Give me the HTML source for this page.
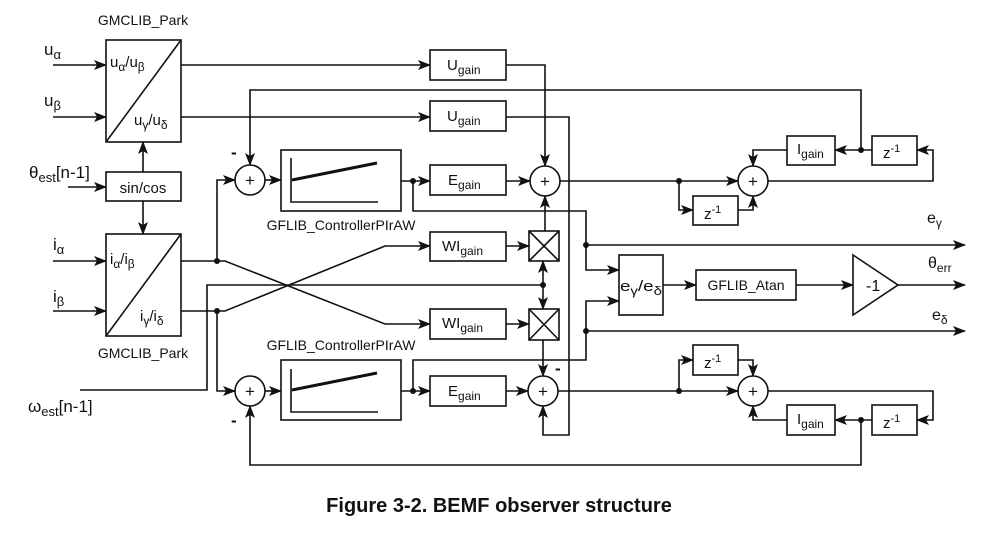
<!DOCTYPE html>
<html><head><meta charset="utf-8"><style>
html,body{margin:0;padding:0;background:#fff;}
svg{display:block;}
text{font-family:"Liberation Sans",sans-serif;fill:#111;}
</style></head><body>
<svg width="999" height="538" viewBox="0 0 999 538" xmlns="http://www.w3.org/2000/svg">
<defs>
<marker id="a" viewBox="0 0 13 10" refX="12" refY="5" markerWidth="13" markerHeight="11" markerUnits="userSpaceOnUse" orient="auto">
<path d="M0,0 L13,5 L0,10 L3,5 Z" fill="#111"/></marker>
</defs>
<g stroke="#111" stroke-width="1.6" fill="none">
<rect x="106" y="40" width="75" height="102"/><line x1="106" y1="142" x2="181" y2="40"/>
<rect x="106" y="234" width="75" height="102"/><line x1="106" y1="336" x2="181" y2="234"/>
<rect x="106" y="172" width="75" height="29"/>
<line x1="53" y1="65" x2="106" y2="65" marker-end="url(#a)"/>
<line x1="53" y1="117" x2="106" y2="117" marker-end="url(#a)"/>
<line x1="68" y1="187" x2="106" y2="187" marker-end="url(#a)"/>
<line x1="143" y1="172" x2="143" y2="142" marker-end="url(#a)"/>
<line x1="143" y1="201" x2="143" y2="234" marker-end="url(#a)"/>
<line x1="53" y1="261" x2="106" y2="261" marker-end="url(#a)"/>
<line x1="53" y1="311" x2="106" y2="311" marker-end="url(#a)"/>
<rect x="430" y="50" width="76" height="30"/>
<rect x="430" y="101" width="76" height="30"/>
<rect x="430" y="165" width="76" height="30"/>
<rect x="430" y="232" width="76" height="29"/>
<rect x="430" y="309" width="76" height="30"/>
<rect x="430" y="376" width="76" height="30"/>
<line x1="181" y1="65" x2="430" y2="65" marker-end="url(#a)"/>
<line x1="181" y1="117" x2="430" y2="117" marker-end="url(#a)"/>
<circle cx="250" cy="180" r="15"/><circle cx="250" cy="391" r="15"/>
<circle cx="545" cy="181" r="15"/><circle cx="543" cy="391" r="15"/>
<circle cx="753" cy="181" r="15"/><circle cx="753" cy="391" r="15"/>
<rect x="281" y="150" width="120" height="61"/>
<rect x="281" y="360" width="120" height="60"/>
<polyline points="291,158 291,202 378,202"/><polyline points="291,369 291,412 378,412"/>
<line x1="292" y1="180" x2="377" y2="163" stroke-width="3"/>
<line x1="292" y1="390" x2="377" y2="373" stroke-width="3"/>
<polyline points="861,150 861,90 250,90 250,165" marker-end="url(#a)"/>
<polyline points="217,261 217,180 235,180" marker-end="url(#a)"/>
<line x1="265" y1="180" x2="281" y2="180" marker-end="url(#a)"/>
<line x1="401" y1="181" x2="430" y2="181" marker-end="url(#a)"/>
<polyline points="413,181 413,211 586,211 586,270 619,270" marker-end="url(#a)"/>
<line x1="506" y1="181" x2="530" y2="181" marker-end="url(#a)"/>
<polyline points="506,65 545,65 545,166" marker-end="url(#a)"/>
<polyline points="506,117 569,117 569,435 543,435 543,406" marker-end="url(#a)"/>
<line x1="560" y1="181" x2="738" y2="181" marker-end="url(#a)"/>
<polyline points="679,181 679,210 693,210" marker-end="url(#a)"/>
<rect x="693" y="196" width="45" height="29"/>
<polyline points="738,210 753,210 753,196" marker-end="url(#a)"/>
<polyline points="768,181 933,181 933,150 917,150" marker-end="url(#a)"/>
<rect x="872" y="136" width="45" height="29"/>
<line x1="872" y1="150" x2="835" y2="150" marker-end="url(#a)"/>
<rect x="787" y="136" width="48" height="29"/>
<polyline points="787,150 753,150 753,166" marker-end="url(#a)"/>
<rect x="529" y="231" width="30" height="30"/><path d="M529,231 L559,261 M559,231 L529,261"/>
<rect x="529" y="309" width="30" height="31"/><path d="M529,309 L559,340 M559,309 L529,340"/>
<line x1="506" y1="246" x2="529" y2="246" marker-end="url(#a)"/>
<line x1="506" y1="324" x2="529" y2="324" marker-end="url(#a)"/>
<line x1="545" y1="231" x2="545" y2="196" marker-end="url(#a)"/>
<line x1="543" y1="285" x2="543" y2="261" marker-end="url(#a)"/>
<line x1="543" y1="285" x2="543" y2="309" marker-end="url(#a)"/>
<line x1="543" y1="340" x2="543" y2="376" marker-end="url(#a)"/>
<polyline points="80,390 207,390 207,285 543,285"/>
<polyline points="181,261 225,261 385,324 430,324" marker-end="url(#a)"/>
<polyline points="181,311 225,311 385,246 430,246" marker-end="url(#a)"/>
<polyline points="217,311 217,391 235,391" marker-end="url(#a)"/>
<line x1="265" y1="391" x2="281" y2="391" marker-end="url(#a)"/>
<line x1="401" y1="391" x2="430" y2="391" marker-end="url(#a)"/>
<polyline points="413,391 413,360 586,360 586,301 619,301" marker-end="url(#a)"/>
<line x1="506" y1="391" x2="528" y2="391" marker-end="url(#a)"/>
<line x1="558" y1="391" x2="738" y2="391" marker-end="url(#a)"/>
<polyline points="679,391 679,360 693,360" marker-end="url(#a)"/>
<rect x="693" y="345" width="45" height="30"/>
<polyline points="738,360 753,360 753,376" marker-end="url(#a)"/>
<polyline points="768,391 933,391 933,420 917,420" marker-end="url(#a)"/>
<rect x="872" y="405" width="45" height="30"/>
<line x1="872" y1="420" x2="835" y2="420" marker-end="url(#a)"/>
<rect x="787" y="405" width="48" height="30"/>
<polyline points="787,420 753,420 753,406" marker-end="url(#a)"/>
<polyline points="861,420 861,465 250,465 250,406" marker-end="url(#a)"/>
<line x1="586" y1="245" x2="965" y2="245" marker-end="url(#a)"/>
<line x1="586" y1="331" x2="965" y2="331" marker-end="url(#a)"/>
<rect x="619" y="255" width="44" height="60"/>
<line x1="663" y1="285" x2="696" y2="285" marker-end="url(#a)"/>
<rect x="696" y="270" width="100" height="30"/>
<line x1="796" y1="285" x2="853" y2="285" marker-end="url(#a)"/>
<polygon points="853,255 898,285 853,315"/>
<line x1="898" y1="285" x2="965" y2="285" marker-end="url(#a)"/>
</g>
<g fill="#111">
<circle cx="217" cy="261" r="3"/><circle cx="217" cy="311" r="3"/>
<circle cx="413" cy="181" r="3"/><circle cx="413" cy="391" r="3"/>
<circle cx="543" cy="285" r="3"/><circle cx="679" cy="181" r="3"/><circle cx="679" cy="391" r="3"/>
<circle cx="861" cy="150" r="3"/><circle cx="861" cy="420" r="3"/>
<circle cx="586" cy="245" r="3"/><circle cx="586" cy="331" r="3"/>
</g>
<g font-size="15">
<text x="143" y="25" text-anchor="middle" font-size="14">GMCLIB_Park</text>
<text x="143" y="358" text-anchor="middle" font-size="14">GMCLIB_Park</text>
<text x="341" y="230" text-anchor="middle" font-size="14">GFLIB_ControllerPIrAW</text>
<text x="341" y="350" text-anchor="middle" font-size="14">GFLIB_ControllerPIrAW</text>
<text x="44" y="55" font-size="17">u<tspan font-size="13" dy="4">α</tspan></text>
<text x="44" y="106" font-size="17">u<tspan font-size="13" dy="4">β</tspan></text>
<text x="29" y="178" font-size="17">θ<tspan font-size="13" dy="4">est</tspan><tspan dy="-4">[n-1]</tspan></text>
<text x="53" y="250" font-size="17">i<tspan font-size="13" dy="4">α</tspan></text>
<text x="53" y="302" font-size="17">i<tspan font-size="13" dy="4">β</tspan></text>
<text x="28" y="412" font-size="17">ω<tspan font-size="13" dy="4">est</tspan><tspan dy="-4">[n-1]</tspan></text>
<text x="110" y="67">u<tspan font-size="12" dy="4">α</tspan><tspan dy="-4">/u</tspan><tspan font-size="12" dy="4">β</tspan></text>
<text x="134" y="125">u<tspan font-size="12" dy="4">γ</tspan><tspan dy="-4">/u</tspan><tspan font-size="12" dy="4">δ</tspan></text>
<text x="110" y="264">i<tspan font-size="12" dy="4">α</tspan><tspan dy="-4">/i</tspan><tspan font-size="12" dy="4">β</tspan></text>
<text x="140" y="321">i<tspan font-size="12" dy="4">γ</tspan><tspan dy="-4">/i</tspan><tspan font-size="12" dy="4">δ</tspan></text>
<text x="143" y="193" text-anchor="middle">sin/cos</text>
<text x="447" y="70">U<tspan font-size="12" dy="4">gain</tspan></text>
<text x="447" y="121">U<tspan font-size="12" dy="4">gain</tspan></text>
<text x="448" y="185">E<tspan font-size="12" dy="4">gain</tspan></text>
<text x="448" y="396">E<tspan font-size="12" dy="4">gain</tspan></text>
<text x="442" y="251">WI<tspan font-size="12" dy="4">gain</tspan></text>
<text x="442" y="328">WI<tspan font-size="12" dy="4">gain</tspan></text>
<text x="797" y="154">I<tspan font-size="12" dy="4">gain</tspan></text>
<text x="797" y="424">I<tspan font-size="12" dy="4">gain</tspan></text>
<text x="883" y="158">z<tspan font-size="11" dy="-6">-1</tspan></text>
<text x="883" y="428">z<tspan font-size="11" dy="-6">-1</tspan></text>
<text x="704" y="219">z<tspan font-size="11" dy="-6">-1</tspan></text>
<text x="704" y="368">z<tspan font-size="11" dy="-6">-1</tspan></text>
<text x="620" y="291" font-size="15" textLength="42" lengthAdjust="spacingAndGlyphs">e<tspan font-size="12" dy="4">γ</tspan><tspan dy="-4">/e</tspan><tspan font-size="12" dy="4">δ</tspan></text>
<text x="746" y="290" text-anchor="middle" font-size="14">GFLIB_Atan</text>
<text x="866" y="291" font-size="16">-1</text>
<text x="927" y="223" font-size="16">e<tspan font-size="12" dy="4">γ</tspan></text>
<text x="928" y="268" font-size="16">θ<tspan font-size="12" dy="4">err</tspan></text>
<text x="932" y="320" font-size="16">e<tspan font-size="12" dy="4">δ</tspan></text>
<g font-size="17" text-anchor="middle"><text x="250" y="186">+</text><text x="250" y="397">+</text><text x="545" y="187">+</text><text x="543" y="397">+</text><text x="753" y="187">+</text><text x="753" y="397">+</text></g>
<text x="231" y="158" font-weight="bold" font-size="17">-</text>
<text x="231" y="426" font-weight="bold" font-size="17">-</text>
<text x="555" y="374" font-weight="bold" font-size="17">-</text>
</g>
<text x="499" y="512" text-anchor="middle" font-size="20" font-weight="bold">Figure 3-2. BEMF observer structure</text>
</svg>
</body></html>
